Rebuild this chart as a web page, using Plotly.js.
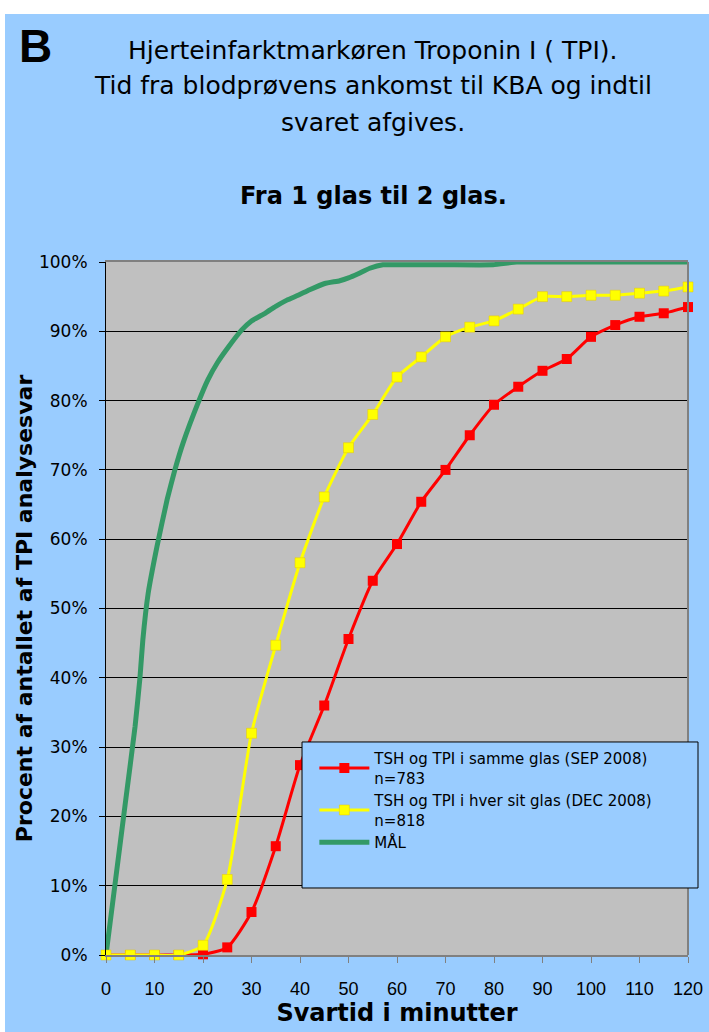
<!DOCTYPE html>
<html>
<head>
<meta charset="utf-8">
<script src="https://cdn.plot.ly/plotly-3.0.1.min.js"></script>
<style>
html, body { margin: 0; padding: 0; background: #ffffff; }
#chart { position: absolute; left: 5px; top: 14px; width: 704px; height: 1018px; }
</style>
</head>
<body>
<div id="chart"></div>
<script>
// ---- data ----
const minutes = [0,5,10,15,20,25,30,35,40,45,50,55,60,65,70,75,80,85,90,95,100,105,110,115,120];
const sameGlass = [0,0,0,0,0.1,1.1,6.2,15.7,27.4,36.0,45.6,54.0,59.3,65.4,70.0,75.0,79.4,82.0,84.3,86.0,89.2,90.9,92.1,92.6,93.5];
const separateGlass = [0,0,0,0,1.4,10.9,32.0,44.7,56.6,66.1,73.2,78.0,83.4,86.3,89.2,90.6,91.5,93.2,95.0,95.0,95.2,95.2,95.5,95.8,96.4];
const goalMinutes = [0,2,4,6,7,7.6,8.7,10.5,12.6,14.2,15.9,19.0,21.0,23,25.2,28.0,30,32.8,35,37.3,39.6,42,45.1,48.2,50,52,54.4,57.1,60,70,79.8,84.7,90,100,110,120];
const goalValues = [0,11,22,33,40,45.5,52.2,58.9,65.7,70.0,73.9,79.7,83.0,85.5,87.7,90.2,91.5,92.6,93.6,94.5,95.2,96.0,96.9,97.3,97.7,98.3,99.1,99.6,99.6,99.6,99.6,100,100,100,100,100];

const names = [
  "TSH og TPI i samme glas (SEP 2008)<br>n=783",
  "TSH og TPI i hver sit glas (DEC 2008)<br>n=818",
  "MÅL"
];
const titleLines = [
  "Hjerteinfarktmarkøren Troponin I ( TPI).",
  "Tid fra blodprøvens ankomst til KBA og indtil",
  "svaret afgives."
];
const subTitle = "Fra 1 glas til 2 glas.";
const panelLetter = "B";
const xTitle = "Svartid i minutter";
const yTitle = "Procent af antallet af TPI analysesvar";

const FONT = "Liberation Sans, Arial, sans-serif";
const WIDE = "DejaVu Sans, Liberation Sans, sans-serif";

const traces = [
  {
    x: goalMinutes, y: goalValues, name: names[2], type: "scatter", mode: "lines",
    line: {color: "#339966", width: 5, shape: "spline", smoothing: 0.4}, legendrank: 3, cliponaxis: false
  },
  {
    x: minutes, y: sameGlass, name: names[0], type: "scatter", mode: "lines+markers",
    line: {color: "#FF0000", width: 3, shape: "spline", smoothing: 0.6},
    marker: {symbol: "square", size: 10, color: "#FF0000"},
    legendrank: 1, cliponaxis: false
  },
  {
    x: minutes, y: separateGlass, name: names[1], type: "scatter", mode: "lines+markers",
    line: {color: "#FFFF00", width: 3, shape: "spline", smoothing: 0.6},
    marker: {symbol: "square", size: 10, color: "#FFFF00", line: {color: "#E6C800", width: 0.5}},
    legendrank: 2, cliponaxis: false
  }
];

const annotations = [
  {text: panelLetter, xref: "paper", yref: "paper", x: -0.1203, y: 1.3117, showarrow: false,
   xanchor: "center", yanchor: "middle", font: {family: FONT, size: 46, color: "#000", weight: "bold"}},
  {text: titleLines[0], xref: "paper", yref: "paper", x: 0.4588, y: 1.3059, showarrow: false,
   xanchor: "center", yanchor: "middle", font: {family: WIDE, size: 25, color: "#000"}},
  {text: titleLines[1], xref: "paper", yref: "paper", x: 0.4588, y: 1.2540, showarrow: false,
   xanchor: "center", yanchor: "middle", font: {family: WIDE, size: 25, color: "#000"}},
  {text: titleLines[2], xref: "paper", yref: "paper", x: 0.4588, y: 1.2020, showarrow: false,
   xanchor: "center", yanchor: "middle", font: {family: WIDE, size: 25, color: "#000"}},
  {text: "<b>" + subTitle + "</b>", xref: "paper", yref: "paper", x: 0.4588, y: 1.0952, showarrow: false,
   xanchor: "center", yanchor: "middle", font: {family: WIDE, size: 24, color: "#000"}}
];

const layout = {
  width: 704, height: 1018,
  margin: {l: 101, r: 21, t: 248, b: 77, pad: 0},
  paper_bgcolor: "#99CCFF",
  plot_bgcolor: "#C0C0C0",
  font: {family: FONT, color: "#000"},
  showlegend: true,
  legend: {
    x: 0.358, y: 0.3074, xanchor: "left", yanchor: "top",
    bgcolor: "rgba(0,0,0,0)", borderwidth: 0,
    font: {family: WIDE, size: 15, color: "#000"},
    itemwidth: 50, tracegroupgap: 0
  },
  xaxis: {
    range: [0, 120], tickmode: "linear", tick0: 0, dtick: 10,
    ticks: "outside", ticklen: 6, tickcolor: "#808080", tickwidth: 1,
    showline: true, linecolor: "#808080", linewidth: 2, mirror: true,
    showgrid: false, zeroline: false,
    tickfont: {family: FONT, size: 18, color: "#000"},
    ticklabelstandoff: 10,
    title: {text: xTitle, font: {family: WIDE, size: 24, color: "#000", weight: "bold"}, standoff: 4},
    automargin: false
  },
  yaxis: {
    range: [0, 100], tickmode: "linear", tick0: 0, dtick: 10, ticksuffix: "%",
    ticks: "outside", ticklen: 6, tickcolor: "#000", tickwidth: 1,
    showline: true, linecolor: "#000", linewidth: 1,
    showgrid: true, gridcolor: "#000", gridwidth: 1, zeroline: false,
    tickfont: {family: WIDE, size: 17, color: "#000"},
    ticklabelstandoff: 8,
    title: {text: yTitle, font: {family: WIDE, size: 22, color: "#000", weight: "bold"}, standoff: 0},
    automargin: false
  },
  shapes: [
    {type: "line", xref: "paper", yref: "paper", x0: 1, x1: 1, y0: 0, y1: 1,
     line: {color: "#808080", width: 2}, layer: "above"},
    {type: "rect", xref: "paper", yref: "paper", x0: 0.3368, x1: 1.0172, y0: 0.0967, y1: 0.3074,
     fillcolor: "#99CCFF", line: {color: "#000", width: 1}, layer: "above"}
  ],
  annotations: annotations
};

Plotly.newPlot("chart", traces, layout, {displayModeBar: false, staticPlot: true});
</script>
</body>
</html>
